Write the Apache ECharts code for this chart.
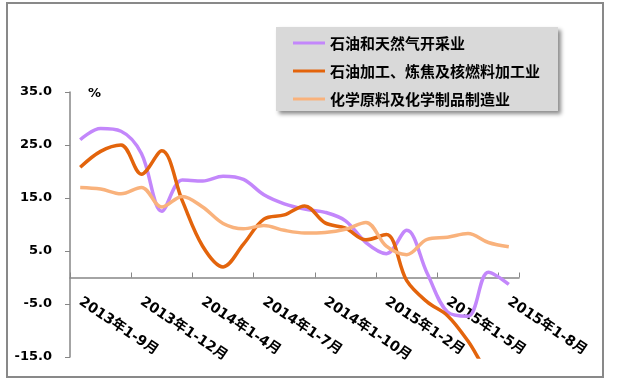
<!DOCTYPE html>
<html><head><meta charset="utf-8">
<script src="https://cdn.jsdelivr.net/npm/echarts@6/dist/echarts.min.js"></script>
<style>html,body{margin:0;padding:0;background:#fff}#c{width:622px;height:386px}</style>
</head><body><div id="c"></div>
<script>
const categories = [
  '2013年1-9月','2013年1-10月','2013年1-11月','2013年1-12月',
  '2014年1-2月','2014年1-3月','2014年1-4月','2014年1-5月','2014年1-6月','2014年1-7月',
  '2014年1-8月','2014年1-9月','2014年1-10月','2014年1-11月','2014年1-12月',
  '2015年1-2月','2015年1-3月','2015年1-4月','2015年1-5月','2015年1-6月','2015年1-7月','2015年1-8月'
];
const seriesNames = ['石油和天然气开采业', '石油加工、炼焦及核燃料加工业', '化学原料及化学制品制造业'];
const oilGasExtraction = [26.0, 28.1, 27.6, 23.4, 12.5, 18.4, 18.2, 19.1, 18.5, 15.6, 13.9, 12.9, 12.3, 10.7, 6.6, 4.5, 8.9, 0.8, -6.5, -7.3, 1.0, -1.3];
const petroleumProcessing = [20.8, 23.8, 25.0, 19.5, 23.9, 14.5, 5.9, 2.0, 6.3, 11.0, 11.8, 13.5, 10.3, 9.3, 7.1, 8.1, -0.6, -4.6, -7.2, -12.0, -18.0, -21.0];
const chemicalMaterials = [17.0, 16.7, 15.8, 17.0, 13.3, 15.3, 13.3, 10.2, 9.2, 9.8, 8.9, 8.4, 8.5, 9.1, 10.4, 5.9, 4.3, 7.2, 7.6, 8.3, 6.6, 5.8];
const yMin = -15, yMax = 35, yStep = 10;
const unitLabel = '%';

const gridTop = 92, gridBottom = 29, chartH = 386;
const plotH = chartH - gridTop - gridBottom;
const zeroOffset = -plotH * (0 - yMin) / (yMax - yMin);

const colors = ['#c387fb', '#e3640c', '#f9b27c'];
const chart = echarts.init(document.getElementById('c'));
const axisFont = {fontFamily: '"DejaVu Sans", "Noto Sans CJK SC", sans-serif', fontWeight: 'bold', fontSize: 13, color: '#000'};
function mk(name, data, color) {
  return {
    name, type: 'line', data, smooth: 0.35, symbol: 'none', clip: true,
    lineStyle: {color, width: 3.5}, itemStyle: {color}
  };
}
chart.setOption({
  animation: false,
  grid: {left: 70, top: gridTop, right: 103, bottom: gridBottom, containLabel: false, outerBoundsMode: 'none'},
  legend: {
    orient: 'vertical', left: 276, top: 27,
    data: seriesNames,
    icon: 'rect', itemWidth: 32, itemHeight: 3, itemGap: 12,
    padding: [8, 18, 4, 17],
    backgroundColor: '#d9d9d9',
    shadowColor: 'rgba(0,0,0,0.45)', shadowBlur: 4, shadowOffsetX: 3, shadowOffsetY: 3,
    textStyle: {fontFamily: '"Noto Sans CJK SC", sans-serif', fontWeight: 'bold', fontSize: 15, color: '#000', lineHeight: 16}
  },
  xAxis: {
    type: 'category', data: categories, boundaryGap: true,
    offset: zeroOffset,
    axisLine: {onZero: false, lineStyle: {color: '#868686', width: 1.5}},
    axisTick: {show: true, inside: true, length: 5, interval: 2, lineStyle: {color: '#868686'}},
    axisLabel: Object.assign({}, axisFont, {interval: 2, rotate: -34, margin: 23, fontSize: 14}),
    splitLine: {show: false}
  },
  yAxis: {
    type: 'value', min: yMin, max: yMax, interval: yStep,
    axisLine: {show: true, lineStyle: {color: '#868686', width: 1.5}},
    axisTick: {show: true, inside: false, length: 5, lineStyle: {color: '#868686'}},
    axisLabel: Object.assign({margin: 18, formatter: v => v.toFixed(1)}, axisFont),
    splitLine: {show: false}
  },
  graphic: [
    {type: 'rect', shape: {x: 7, y: 3, width: 596, height: 374}, style: {fill: 'none', stroke: '#898989', lineWidth: 2}, z: -10},
    {type: 'text', left: 88, top: 87, style: {text: unitLabel, font: 'bold 13px "DejaVu Sans"', fill: '#000'}}
  ],
  series: [
    mk(seriesNames[0], oilGasExtraction, colors[0]),
    mk(seriesNames[1], petroleumProcessing, colors[1]),
    mk(seriesNames[2], chemicalMaterials, colors[2])
  ]
});
</script></body></html>
